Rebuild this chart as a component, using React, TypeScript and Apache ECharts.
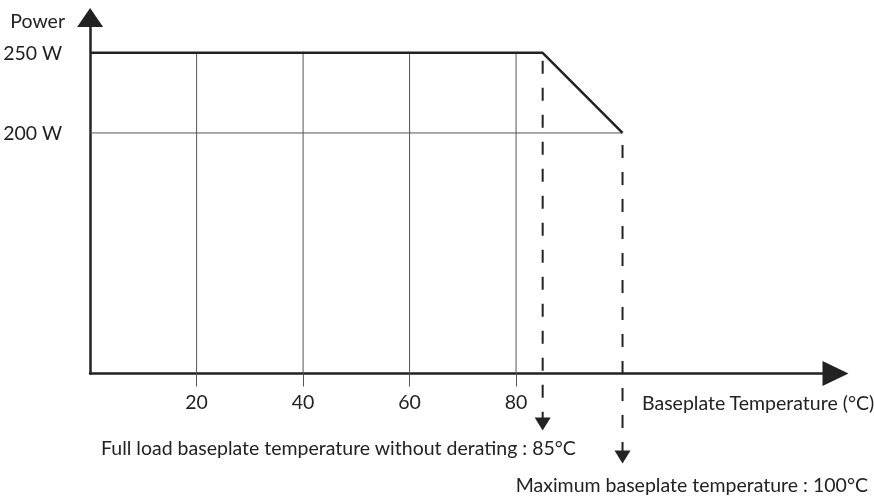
import React, { useEffect, useRef } from "react";
import * as echarts from "echarts";

// ---- data ----
const xTickValues = [20, 40, 60, 80];
const yTickValues = [200, 250];
const curveTemps = [0, 85, 100];
const curvePowers = [250, 250, 200];
const gridTemps = [20, 40, 60, 80];
const gridPowerRange = [50, 250];
const refPower = 200;
const refTempRange = [0, 100];
const deratingTemp = 85;
const deratingDashRange = [245, 18.5];
const maxTemp = 100;
const maxDashRange = [192.5, -2];

const yAxisName = "Power";
const xAxisName = "Baseplate Temperature (°C)";
const deratingText = "Full load baseplate temperature without derating : 85°C";
const maxText = "Maximum baseplate temperature : 100°C";

const FONT = "Lato, 'Noto Sans', sans-serif";
const FS = 19.5;
const INK = "#222";

export default function App() {
  const ref = useRef<HTMLDivElement>(null);
  useEffect(() => {
    document.body.style.margin = "0";
    const chart = echarts.init(ref.current!, null, { renderer: "svg" });

    const gridSeries = gridTemps.map((t) => ({
      type: "line",
      data: [
        [t, gridPowerRange[0]],
        [t, gridPowerRange[1]],
      ],
      symbol: "none",
      lineStyle: { color: "#555", width: 1 },
      z: 2,
      silent: true,
    }));

    const dashSeries = (temp: number, range: number[]) => ({
      type: "line",
      clip: false,
      data: [
        { value: [temp, range[0]], symbol: "none" },
        {
          value: [temp, range[1]],
          symbol: "triangle",
          symbolRotate: 180,
          symbolSize: [16, 13],
        },
      ],
      lineStyle: { color: INK, width: 2, type: [13, 14] },
      itemStyle: { color: INK, borderWidth: 0 },
      z: 4,
      silent: true,
    });

    const txt = (text: string, x: number, y: number, align: string) => ({
      type: "text",
      x,
      y,
      style: {
        text,
        align,
        verticalAlign: "middle",
        fontSize: FS,
        fontFamily: FONT,
        fill: INK,
      },
    });

    chart.setOption({
      animation: false,
      grid: { left: 89, right: 38.5, top: 17.5, bottom: 123.5 },
      xAxis: {
        type: "value",
        min: 0,
        max: 140,
        interval: 20,
        axisLine: {
          show: true,
          symbol: ["none", "triangle"],
          symbolSize: [25, 26],
          lineStyle: { color: INK, width: 2.5 },
        },
        axisTick: {
          show: true,
          customValues: xTickValues,
          length: 13,
          lineStyle: { color: "#555", width: 1 },
        },
        axisLabel: {
          customValues: xTickValues,
          margin: 18,
          fontSize: FS,
          fontFamily: FONT,
          color: INK,
        },
        splitLine: { show: false },
      },
      yAxis: {
        type: "value",
        min: 50,
        max: 272,
        interval: 50,
        axisLine: {
          show: true,
          symbol: ["none", "triangle"],
          symbolSize: [26, 19],
          lineStyle: { color: INK, width: 2.5 },
        },
        axisTick: { show: false },
        axisLabel: {
          customValues: yTickValues,
          formatter: (v: number) => (yTickValues.includes(v) ? `${v} W` : ""),
          margin: 28,
          fontSize: FS,
          fontFamily: FONT,
          color: INK,
        },
        splitLine: { show: false },
      },
      series: [
        ...gridSeries,
        {
          type: "line",
          data: [
            [refTempRange[0], refPower],
            [refTempRange[1], refPower],
          ],
          symbol: "none",
          lineStyle: { color: "#555", width: 1 },
          z: 2,
          silent: true,
        },
        {
          type: "line",
          data: curveTemps.map((t, i) => [t, curvePowers[i]]),
          symbol: "none",
          lineStyle: { color: INK, width: 2.5 },
          z: 5,
          silent: true,
        },
        dashSeries(deratingTemp, deratingDashRange),
        dashSeries(maxTemp, maxDashRange),
      ],
      graphic: [
        txt(yAxisName, 65, 20, "right"),
        txt(xAxisName, 642, 402, "left"),
        txt(deratingText, 101, 447, "left"),
        txt(maxText, 868, 484, "right"),
      ],
    });
    return () => chart.dispose();
  }, []);
  return (
    <div
      ref={ref}
      style={{ position: "fixed", left: 0, top: 0, width: 874, height: 497 }}
    />
  );
}
